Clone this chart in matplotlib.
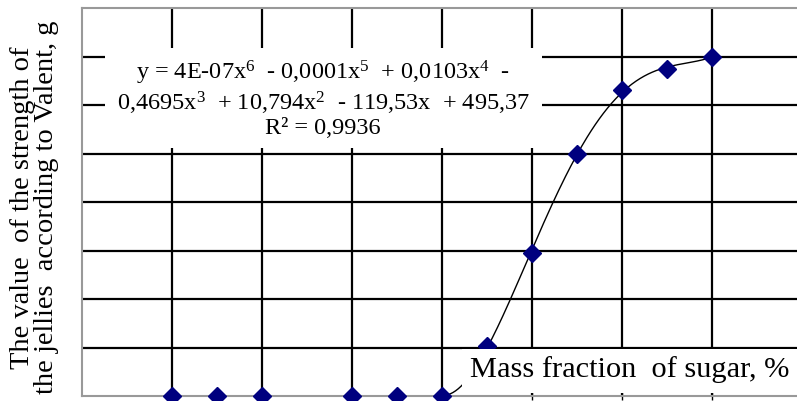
import numpy as np
import matplotlib
matplotlib.use("Agg")
import matplotlib.pyplot as plt
from matplotlib.patches import Rectangle

plt.rcParams["font.family"] = ["Liberation Serif", "DejaVu Serif"]
plt.rcParams["mathtext.fontset"] = "custom"
plt.rcParams["mathtext.rm"] = "Liberation Serif"
plt.rcParams["mathtext.it"] = "Liberation Serif:italic"

# Mass fraction of sugar, % and jelly strength by Valent, g
sugar = [10, 15, 20, 30, 35, 40, 45, 50, 55, 60, 65, 70]
strength = [0, 0, 0, 0, 0, 0, 52, 147, 250, 315, 337, 350]

equation = ("y = 4E-07x$^{6}$  - 0,0001x$^{5}$  + 0,0103x$^{4}$  -\n"
            "0,4695x$^{3}$  + 10,794x$^{2}$  - 119,53x  + 495,37\n"
            "R² = 0,9936")

fig = plt.figure(figsize=(7.97, 4.01), dpi=100)
ax = fig.add_axes([82 / 797, 5 / 401, 715 / 797, 388 / 401])

ax.set_xlim(0, 79.45)
ax.set_ylim(0, 400)
ax.set_xticks(np.arange(10, 80, 10))
ax.set_yticks(np.arange(50, 400, 50))
ax.set_xticklabels([])
ax.set_yticklabels([])
ax.tick_params(axis="x", direction="inout", length=6, color="black", width=1)
ax.tick_params(axis="y", length=0)
ax.grid(True, color="black", linewidth=1.6, zorder=1)
ax.set_axisbelow(True)

for side in ["left", "bottom", "top"]:
    ax.spines[side].set_color("#999999")
    ax.spines[side].set_linewidth(1.5)
ax.spines["right"].set_visible(False)

# polynomial trend over the rising part
xs = np.array(sugar[5:], dtype=float)
ys = np.array(strength[5:], dtype=float)
coef = np.polyfit(xs, ys, 4)
xf = np.linspace(xs.min(), xs.max(), 200)
ax.plot(xf, np.polyval(coef, xf), color="black", linewidth=1, zorder=3)

ax.plot(sugar, strength, linestyle="none", marker="D", markersize=9,
        color="#00007f", clip_on=False, zorder=4)

# white label boxes that hide the grid behind the texts
ax.add_patch(Rectangle((2.6, 255.5), 48.5, 103.5, facecolor="white",
                       edgecolor="none", zorder=5))
ax.text(26.8, 306, equation, ha="center", va="center", fontsize=17.5,
        linespacing=1.1, zorder=6)

ax.add_patch(Rectangle((42.2, 3), 40, 45.5, facecolor="white",
                       edgecolor="none", zorder=5, clip_on=True))
ax.text(43.1, 27, "Mass fraction  of sugar, %", ha="left", va="center",
        fontsize=21.9, zorder=6)

fig.text(0.043, 0.482, "The value  of the strength of\nthe jellies  according to Valent, g",
         rotation=90, ha="center", va="center", fontsize=20.5, linespacing=0.92)

fig.savefig("out.png", dpi=100)
